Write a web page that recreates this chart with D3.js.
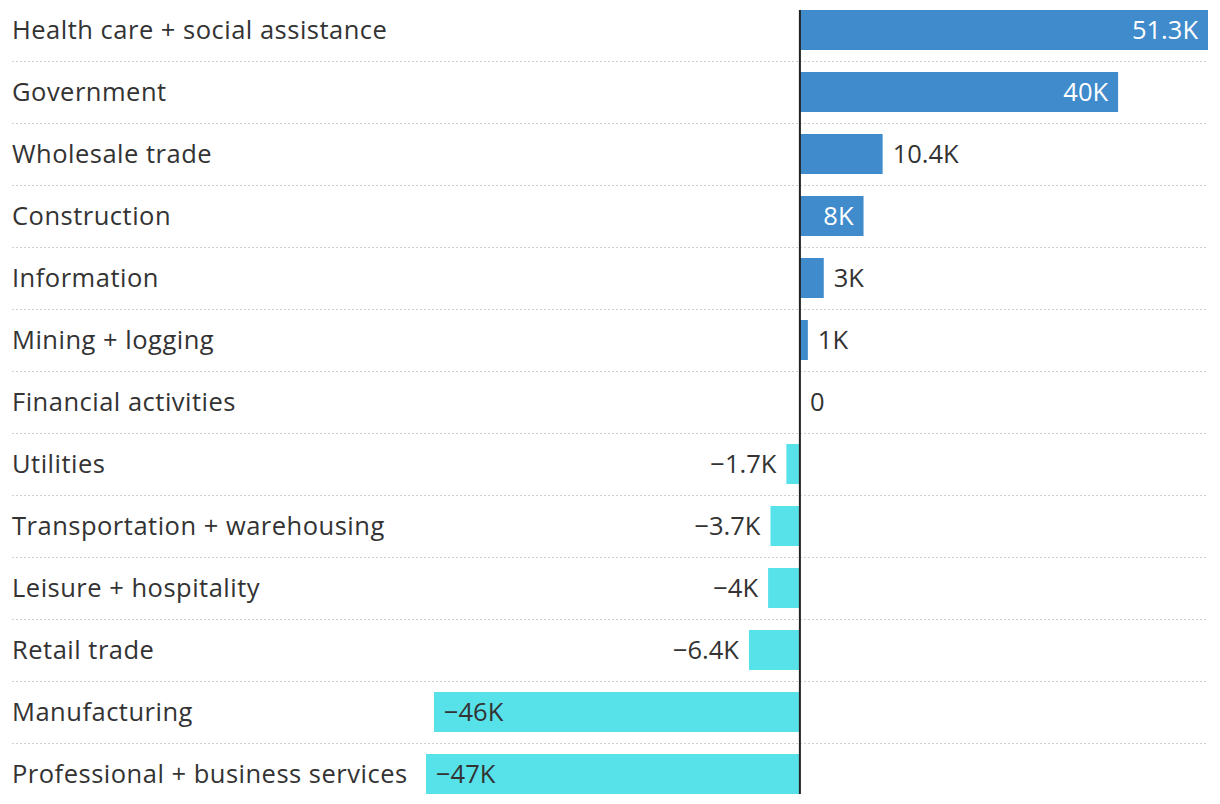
<!DOCTYPE html>
<html><head><meta charset="utf-8">
<script src="https://cdn.jsdelivr.net/npm/d3@7"></script>
<style>body{margin:0;background:#fff;} text{font-family:"Open Sans",sans-serif;}</style>
</head><body><svg id="c" width="1220" height="804"></svg>
<script>
const categories = ["Health care + social assistance","Government","Wholesale trade","Construction","Information","Mining + logging","Financial activities","Utilities","Transportation + warehousing","Leisure + hospitality","Retail trade","Manufacturing","Professional + business services"];
const values = [51.3,40,10.4,8,3,1,0,-1.7,-3.7,-4,-6.4,-46,-47];
const valueLabels = ["51.3K","40K","10.4K","8K","3K","1K","0","\u22121.7K","\u22123.7K","\u22124K","\u22126.4K","\u221246K","\u221247K"];

const svg = d3.select("#c");
const x = d3.scaleLinear().domain([-47, 51.3]).range([426, 1208]);
const y = d3.scaleBand().domain(categories).range([-1, 805]).paddingInner(22/62).paddingOuter(11/62);
const step = y.step();
const fs = 25.5;

svg.append("g").selectAll("line").data(categories.slice(1)).join("line")
  .attr("x1", 12).attr("x2", 1208)
  .attr("y1", d => Math.round(y(d) - (step - y.bandwidth())/2) + 0.5)
  .attr("y2", d => Math.round(y(d) - (step - y.bandwidth())/2) + 0.5)
  .attr("stroke", "#cfcfcf").attr("stroke-width", 1.2).attr("stroke-dasharray", "2,2");

const data = categories.map((c,i)=>({c, v: values[i], l: valueLabels[i]}));

svg.append("g").selectAll("rect").data(data).join("rect")
  .attr("x", d => x(Math.min(0, d.v)))
  .attr("width", d => Math.abs(x(d.v) - x(0)))
  .attr("y", d => y(d.c)).attr("height", y.bandwidth())
  .attr("fill", d => d.v >= 0 ? "#3f8bcb" : "#57e1e9");

svg.append("g").selectAll("text").data(data).join("text")
  .attr("x", 12).attr("y", d => y(d.c) + y.bandwidth()/2)
  .attr("dy", "0.34em").attr("font-size", fs).attr("fill", "#333")
  .attr("letter-spacing", 0.5)
  .text(d => d.c);

const vl = svg.append("g").selectAll("text").data(data).join("text")
  .attr("y", d => y(d.c) + y.bandwidth()/2).attr("dy", "0.34em")
  .attr("font-size", fs).text(d => d.l);
vl.each(function(d){
  const t = d3.select(this);
  const w = this.getComputedTextLength();
  const bw = Math.abs(x(d.v) - x(0));
  const inside = bw > w + 24;
  if (d.v >= 0) {
    if (inside) t.attr("x", x(d.v) - 10).attr("text-anchor","end").attr("fill","#fff");
    else t.attr("x", x(d.v) + 10).attr("text-anchor","start").attr("fill","#333");
  } else {
    if (inside) t.attr("x", x(d.v) + 10).attr("text-anchor","start").attr("fill","#333");
    else t.attr("x", x(d.v) - 10).attr("text-anchor","end").attr("fill","#333");
  }
});

svg.append("line").attr("x1", x(0)).attr("x2", x(0))
  .attr("y1", y(categories[0])).attr("y2", y(categories[categories.length-1]) + y.bandwidth())
  .attr("stroke", "#222").attr("stroke-width", 2);
</script></body></html>
